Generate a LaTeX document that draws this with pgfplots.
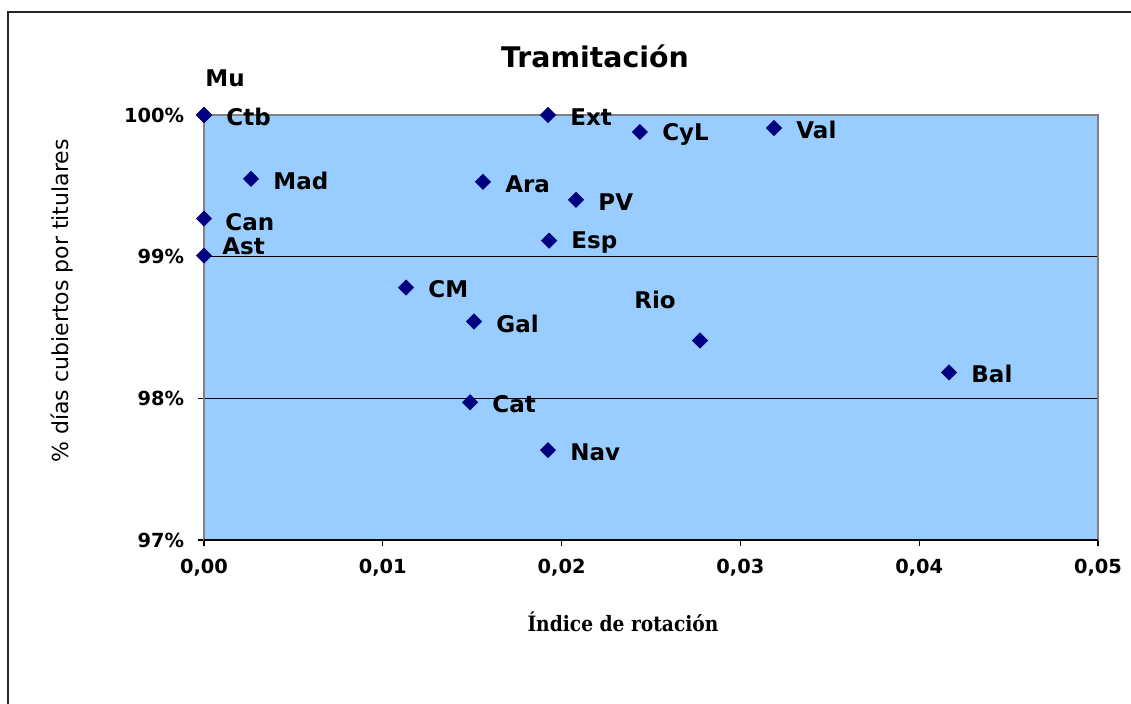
\documentclass[border=0pt]{standalone}
\usepackage{pgfplots}
\usepackage{pgfplotstable}
\pgfplotsset{compat=1.18}
\usepackage{fontspec}
\setmainfont{DejaVu Sans}
\newfontfamily\serifb{DejaVu Serif}[FakeStretch=0.88]
\definecolor{plotbg}{HTML}{99CCFF}
\definecolor{navy}{HTML}{000080}
\definecolor{borde}{HTML}{808080}

% x = indice de rotacion, y = % dias cubiertos; dx, dy = desplazamiento de la etiqueta (pt)
\pgfplotstableread{
x        y        lab  dx    dy
0.00000  100.000  Mu   0.5   18.5
0.00000  100.000  Ctb  11    -1
0.01924  100.000  Ext  11    -1
0.02438  99.880   CyL  11    -1
0.03188  99.908   Val  11    -1
0.00263  99.549   Mad  11    -1
0.01560  99.528   Ara  11    -1
0.02081  99.401   PV   11    -1
0.00000  99.268   Can  10.5  -1.5
0.01930  99.113   Esp  11    -1
0.00000  99.007   Ast  9     4.5
0.01130  98.782   CM   11    -1
0.01510  98.542   Gal  11    -1
0.02774  98.408   Rio  -33   20.5
0.04167  98.183   Bal  11    -1
0.01488  97.972   Cat  11    -1
0.01924  97.634   Nav  11    -1
}\datos

\begin{document}
\begin{tikzpicture}
\useasboundingbox (0,0) rectangle (565.5pt,352pt);
\draw[line width=1pt, black!85] (4pt,0) -- (4pt,346pt) -- (565.5pt,346pt);

\begin{axis}[
    name=ax,
    at={(102pt,82pt)}, anchor=south west,
    scale only axis,
    width=447pt, height=212.5pt,
    xmin=0, xmax=0.05,
    ymin=97, ymax=100,
    xtick={0,0.01,0.02,0.03,0.04,0.05},
    ytick={97,98,99,100},
    scaled x ticks=false,
    xticklabel style={/pgf/number format/fixed, /pgf/number format/fixed zerofill,
        /pgf/number format/precision=2, /pgf/number format/use comma, yshift=-3pt},
    yticklabel={\pgfmathprintnumber{\tick}\%},
    yticklabel style={xshift=-3.5pt},
    /pgf/number format/assume math mode=true,
    tick label style={font=\bfseries\fontsize{9.7}{11}\selectfont},
    xtick pos=bottom, ytick pos=left,
    tick align=outside, major tick length=3pt,
    tick style={black, line width=0.6pt},
    axis background/.style={fill=plotbg},
    axis line style={draw=borde, line width=1pt},
    ymajorgrids, grid style={black, line width=0.6pt},
    clip=false,
]
\addplot[only marks, mark=square*, mark size=2.65pt,
    mark options={rotate=45, fill=navy, draw=navy},
    point meta=explicit symbolic,
    visualization depends on={\thisrow{dx} \as \dx},
    visualization depends on={\thisrow{dy} \as \dy},
    nodes near coords,
    nodes near coords style={anchor=west, inner sep=0pt,
        xshift=\dx pt, yshift=\dy pt,
        font=\bfseries\fontsize{11.5}{13}\selectfont, text=black},
] table[x=x, y=y, meta=lab] {\datos};
\draw[black, line width=0.7pt] (rel axis cs:0,0) -- (rel axis cs:1,0);
\end{axis}

\node[font=\bfseries\fontsize{14.2}{17}\selectfont] at (297.5pt,324pt) {Tramitación};
\node[rotate=90, font=\fontsize{11}{13}\selectfont] at (31pt,201.5pt) {\% días cubiertos por titulares};
\node[font=\serifb\bfseries\fontsize{10.6}{12}\selectfont] at (311.5pt,41pt) {Índice de rotación};
\end{tikzpicture}
\end{document}
